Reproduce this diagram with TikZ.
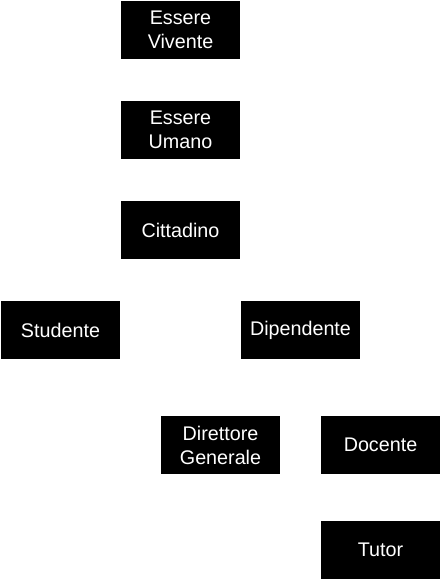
\documentclass[tikz,border=0pt]{standalone}
\usepackage{fontspec}
\setmainfont{Liberation Sans}
\usetikzlibrary{arrows.meta}
\begin{document}
\begin{tikzpicture}[x=0.75pt,y=-0.75pt,
  cls/.style={fill=black,draw=none,text=white,minimum width=89.25pt,minimum height=43.5pt,
    inner sep=0pt,align=center,font=\fontsize{14.8}{18}\selectfont},
  inh/.style={draw=white,line width=0.75pt,-{Triangle[open,fill=white,length=8pt,width=10pt]}}]
\useasboundingbox (0,0) rectangle (441,581);
\node[cls] (viv) at (180.5,30) {Essere\\Vivente};
\node[cls] (uma) at (180.5,130) {Essere\\Umano};
\node[cls] (cit) at (180.5,230) {Cittadino};
\node[cls] (stu) at (60.5,330) {Studente};
\node[cls] (dip) at (300.5,330) {Dipendente};
\node[cls] (dir) at (220.5,445) {Direttore\\Generale};
\node[cls] (doc) at (380.5,445) {Docente};
\node[cls] (tut) at (380.5,550) {Tutor};
\draw[inh] (uma) -- (viv);
\draw[inh] (cit) -- (uma);
\draw[inh] (stu.north) |- ++(0,-20) -| (cit.south);
\draw[inh] (dip.north) |- ++(0,-20) -| (cit.south);
\draw[inh] (dir.north) |- ++(0,-28) -| (dip.south);
\draw[inh] (doc.north) |- ++(0,-28) -| (dip.south);
\draw[inh] (tut) -- (doc);
\end{tikzpicture}
\end{document}
